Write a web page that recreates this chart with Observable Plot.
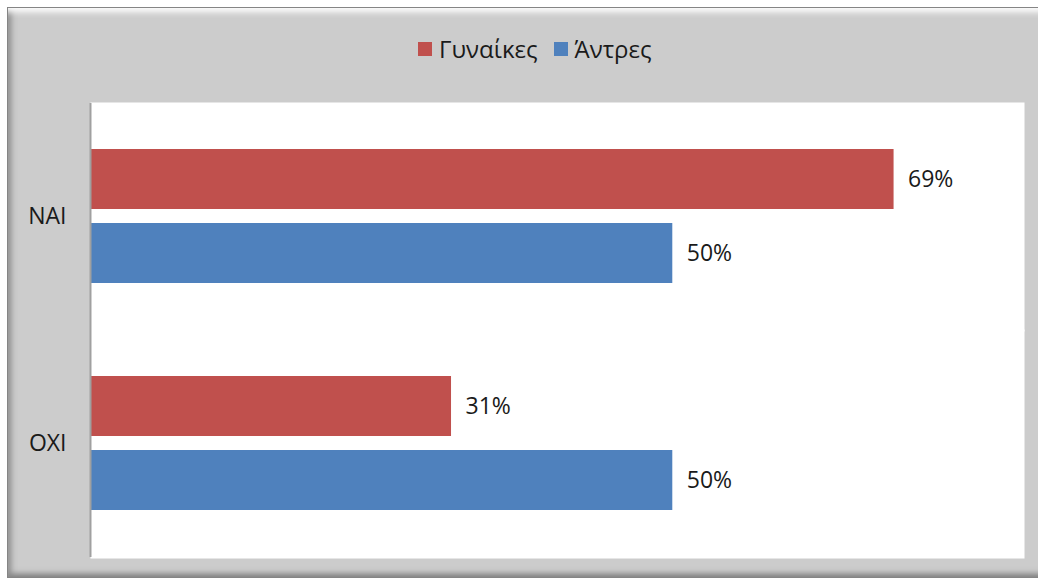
<!DOCTYPE html>
<html>
<head>
<meta charset="utf-8">
<script src="https://cdn.jsdelivr.net/npm/d3@7"></script>
<script src="https://cdn.jsdelivr.net/npm/@observablehq/plot@0.6"></script>
<style>
  html, body { margin: 0; padding: 0; background: #ffffff; }
  #wrap { position: relative; width: 1038px; height: 581px; overflow: hidden; font-family: "Open Sans", sans-serif; }
  #bevel {
    position: absolute; left: 7px; top: 7px; width: 1040px; height: 571px;
    background: #cccccc; border: 1px solid #858585; box-sizing: border-box;
    box-shadow: inset 0 9px 6px -5px #ffffff, inset 7px 0 6px -4px #8a8a8a, inset 0 -8px 6px -5px #7a7a7a;
  }
  #chart { position: absolute; left: 0; top: 0; }
  #legend { position: absolute; left: 418px; top: 32px; display: flex; align-items: center; font-size: 24px; color: #1a1a1a; white-space: nowrap; }
  #legend .sw { display: inline-block; width: 14px; height: 14px; margin-right: 7px; }
  #legend .item { display: flex; align-items: center; margin-right: 16px; }
</style>
</head>
<body>
<div id="wrap">
  <div id="bevel"></div>
  <div id="chart"></div>
  <div id="legend"></div>
</div>
<script>
const answers = ["NAI", "OXI"];
const genders = ["Γυναίκες", "Άντρες"];
const women = [0.69, 0.31];
const men = [0.50, 0.50];
const colors = ["#C0504D", "#4F81BD"];

const data = [];
answers.forEach((a, i) => {
  data.push({answer: a, gender: genders[0], value: women[i]});
  data.push({answer: a, gender: genders[1], value: men[i]});
});

const chart = Plot.plot({
  width: 1038,
  height: 581,
  marginLeft: 90,
  marginRight: 14,
  marginTop: 103,
  marginBottom: 24,
  style: {background: "transparent", fontFamily: "Open Sans, sans-serif", fontSize: "23px", color: "#1a1a1a", overflow: "visible"},
  x: {domain: [0, 0.802], axis: null},
  y: {domain: genders, axis: null, paddingInner: 0.1867, paddingOuter: 0.6067},
  fy: {domain: answers, padding: 0, axis: "left", label: null, tickSize: 0, tickPadding: 24},
  color: {domain: genders, range: colors},
  marks: [
    Plot.frame({fill: "white", stroke: null, insetTop: -1, insetBottom: -1}),
    Plot.barX(data, {fy: "answer", y: "gender", x: "value", fill: "gender"}),
    Plot.text(data, {fy: "answer", y: "gender", x: "value", text: d => Math.round(d.value * 100) + "%", textAnchor: "start", dx: 14, fontSize: 23, fill: "#1a1a1a"}),
    Plot.ruleX([0], {stroke: "#a0a0a0", strokeWidth: 2})
  ]
});
document.getElementById("chart").appendChild(chart);

const legend = document.getElementById("legend");
genders.forEach((g, i) => {
  const item = document.createElement("span");
  item.className = "item";
  const sw = document.createElement("span");
  sw.className = "sw";
  sw.style.background = colors[i];
  item.appendChild(sw);
  item.appendChild(document.createTextNode(g));
  legend.appendChild(item);
});
</script>
</body>
</html>
